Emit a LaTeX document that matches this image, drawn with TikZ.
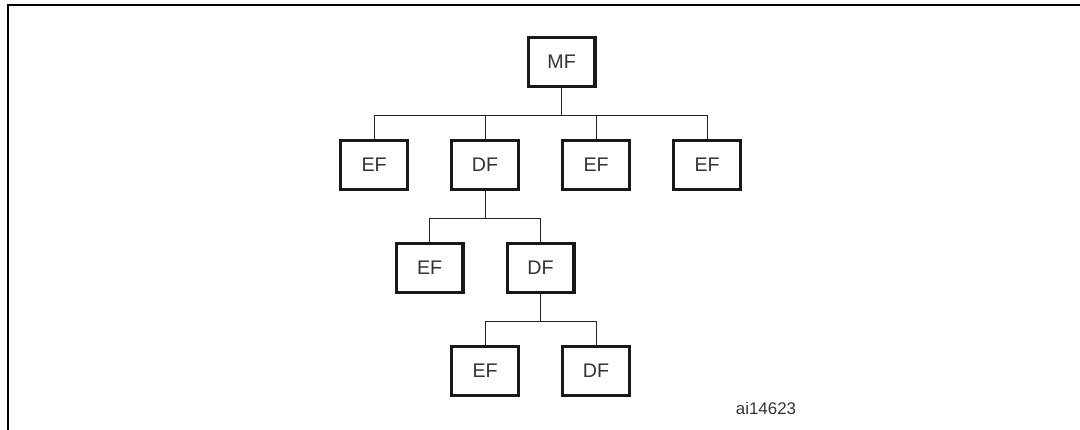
\documentclass[tikz,border=0pt]{standalone}
\usepackage{fontspec}
\setmainfont{Liberation Sans}
\usetikzlibrary{trees}
\begin{document}
\begin{tikzpicture}[filebox/.style={rectangle,draw=black!90,line width=2.3pt,
		minimum width=1.67cm,minimum height=1.24cm,inner sep=0pt,
		font=\fontsize{14}{16}\selectfont,text=black!80},
	every child node/.style={filebox},
	edge from parent/.style={draw,line width=0.7pt,black!85},
	edge from parent path={(\tikzparentnode.south) -- ++(0,-0.665) -| (\tikzchildnode.north)},
	level 1/.style={grow via three points={one child at (-0.525,-2.575)
		and two children at (-1.9125,-2.575) and (0.8625,-2.575)}},
	level 2/.style={grow via three points={one child at (0,-2.575)
		and two children at (-1.3875,-2.575) and (1.3875,-2.575)}}]
\useasboundingbox (0,0) rectangle (27,-10.75);
\draw[line width=1.4pt] (27,-0.125) -- (0.2,-0.125) -- (0.2,-10.75);
\node[filebox] (mf) at (14.04,-1.55) {MF}
child {node (ef1) {EF}}
child {node (df1) {DF}
	child {node (ef2) {EF}}
	child {node (df2) {DF}
		child {node (ef3) {EF}}
		child {node (df3) {DF}}
		}
	}
child {node (ef4) {EF}}
child {node (ef5) {EF}};
\node[font=\fontsize{12}{14}\selectfont,text=black!80] (tag) at (19.15,-10.2) {ai14623};
\end{tikzpicture}
\end{document}
